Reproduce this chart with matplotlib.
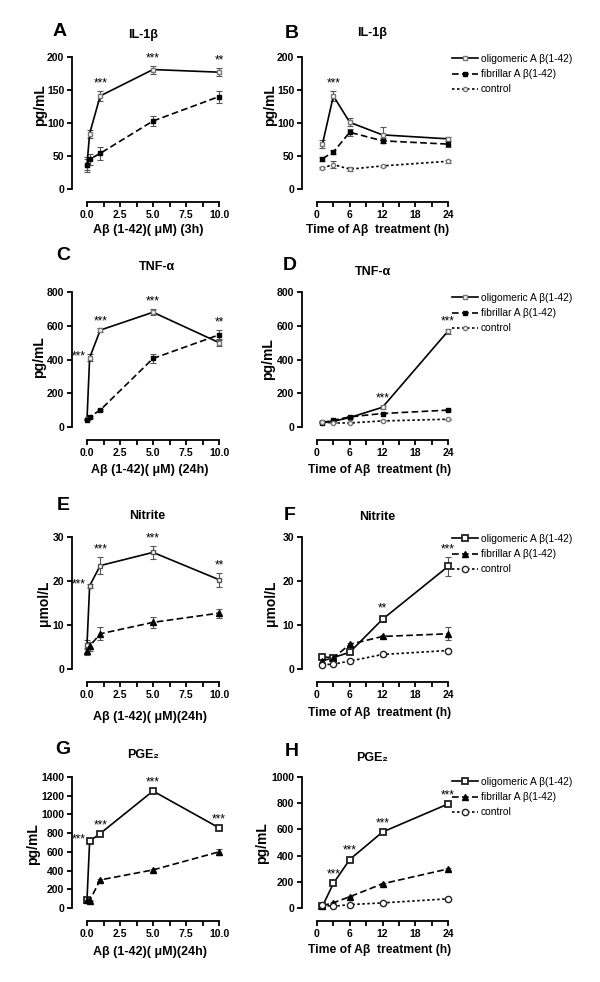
import matplotlib.pyplot as plt
from matplotlib.ticker import MultipleLocator, FormatStrFormatter

plt.rcParams['font.family'] = ['Liberation Sans', 'DejaVu Sans']

W, H = 600, 982

conc = [0, 0.2, 1, 5, 10]
hours = [1, 3, 6, 12, 24]

# A - IL-1b vs concentration (3h)
a_olig = [37, 84, 141, 181, 177]
a_olig_err = [11, 6, 8, 6, 6]
a_fib = [37, 45, 54, 103, 140]
a_fib_err = [8, 8, 10, 8, 9]
a_sig = ['', '', '***', '***', '**']

# B - IL-1b vs time
b_olig = [68, 141, 101, 82, 76]
b_olig_err = [6, 8, 6, 12, 3]
b_fib = [46, 56, 86, 73, 68]
b_fib_err = [3, 3, 5, 4, 5]
b_ctrl = [32, 37, 30, 35, 42]
b_ctrl_err = [2, 5, 3, 2, 2]
b_sig = ['', '***', '', '', '']

# C - TNF-a vs concentration (24h)
c_olig = [45, 410, 574, 680, 500]
c_olig_err = [5, 20, 10, 18, 20]
c_fib = [44, 60, 100, 406, 546]
c_fib_err = [5, 5, 8, 25, 30]
c_sig = ['', '***', '***', '***', '**']

# D - TNF-a vs time
d_olig = [30, 34, 56, 117, 568]
d_olig_err = [3, 3, 5, 8, 15]
d_fib = [24, 40, 60, 80, 100]
d_fib_err = [3, 3, 4, 5, 5]
d_ctrl = [30, 24, 24, 36, 46]
d_ctrl_err = [2, 2, 2, 3, 3]
d_sig = ['', '', '', '***', '***']

# E - nitrite vs concentration (24h)
e_olig = [5.5, 18.9, 23.5, 26.5, 20.3]
e_olig_err = [1.0, 0.5, 2.0, 1.5, 1.6]
e_fib = [4.0, 5.2, 8.0, 10.6, 12.7]
e_fib_err = [0.8, 1.0, 1.5, 1.2, 1.0]
e_sig = ['', '***', '***', '***', '**']

# F - nitrite vs time
f_olig = [2.7, 2.6, 3.8, 11.3, 23.3]
f_olig_err = [0.3, 0.3, 0.4, 0.7, 2.1]
f_fib = [1.9, 2.5, 5.6, 7.4, 8.0]
f_fib_err = [0.2, 0.3, 0.3, 0.4, 1.5]
f_ctrl = [1.0, 1.1, 1.8, 3.3, 4.2]
f_ctrl_err = [0.2, 0.2, 0.2, 0.3, 0.3]
f_sig = ['', '', '', '**', '***']

# G - PGE2 vs concentration (24h)
g_olig = [89, 714, 796, 1250, 857]
g_olig_err = [10, 10, 10, 15, 12]
g_fib = [89, 79, 300, 407, 600]
g_fib_err = [8, 8, 10, 10, 30]
g_sig = ['', '***', '***', '***', '***']

# H - PGE2 vs time
h_olig = [13, 188, 370, 580, 794]
h_olig_err = [3, 8, 10, 10, 10]
h_fib = [18, 40, 86, 185, 298]
h_fib_err = [3, 4, 5, 6, 8]
h_ctrl = [21, 13, 26, 39, 70]
h_ctrl_err = [2, 2, 3, 3, 4]
h_sig = ['', '***', '***', '***', '***']

legend_labels = ['oligomeric A \u03b2(1-42)', 'fibrillar A \u03b2(1-42)', 'control']


def fx(px):
    return px / W


def fy(py):
    return 1 - py / H


fig = plt.figure(figsize=(W / 100, H / 100), dpi=100)

cols = [(87, 219), (317, 448)]
rows = [(57, 189), (292, 427), (537, 669), (777, 908)]


def make_ax(r, c):
    x0, x1 = cols[c]
    t, b = rows[r]
    ax = fig.add_axes([fx(x0), fy(b), (x1 - x0) / W, (b - t) / H])
    for s in ['top', 'right']:
        ax.spines[s].set_visible(False)
    ax.spines['left'].set_position(('outward', 10.8))
    ax.spines['bottom'].set_position(('outward', 9.4))
    for s in ['left', 'bottom']:
        ax.spines[s].set_linewidth(1.3)
    ax.tick_params(direction='out', length=3.5, width=1.3, labelsize=7.5, pad=2)
    ax.tick_params(which='minor', direction='out', length=3.5, width=1.3)
    return ax


def style_ticks(ax):
    for lab in ax.get_xticklabels() + ax.get_yticklabels():
        lab.set_fontweight('bold')


def plot_series(ax, x, y, err, ls, marker, ms, mfc, mec, mew=1.0, label=None):
    ax.errorbar(x, y, yerr=err, ls='none', ecolor='#555555', elinewidth=0.8,
                capsize=2.2, capthick=0.8, clip_on=False, zorder=2)
    ax.plot(x, y, ls=ls, color='black', lw=1.2, marker=marker, ms=ms,
            mfc=mfc, mec=mec, mew=mew, clip_on=False, zorder=3, label=label)


def add_sig(ax, x, sig, pairs, left_first=False):
    # pairs: list of (values, errors) for all series, star goes above the highest one
    for i, s in enumerate(sig):
        if not s:
            continue
        y0, e0 = pairs[0]
        if left_first and i == 1:
            ax.annotate(s, (x[i], y0[i]), xytext=(-3, 1), textcoords='offset points',
                        ha='right', va='center', fontsize=8.5)
        else:
            top = max(v[i] + e[i] for v, e in pairs)
            ax.annotate(s, (x[i], top), xytext=(0, 1), textcoords='offset points',
                        ha='center', va='bottom', fontsize=8.5, annotation_clip=False)


def conc_axis(ax, ymax, ystep):
    ax.set_xlim(0, 10)
    ax.set_ylim(0, ymax)
    ax.xaxis.set_major_locator(MultipleLocator(2.5))
    ax.xaxis.set_minor_locator(MultipleLocator(1.25))
    ax.xaxis.set_major_formatter(FormatStrFormatter('%.1f'))
    ax.yaxis.set_major_locator(MultipleLocator(ystep))
    style_ticks(ax)


def time_axis(ax, ymax, ystep):
    ax.set_xlim(0, 24)
    ax.set_ylim(0, ymax)
    ax.xaxis.set_major_locator(MultipleLocator(6))
    ax.xaxis.set_minor_locator(MultipleLocator(3))
    ax.yaxis.set_major_locator(MultipleLocator(ystep))
    style_ticks(ax)


def add_legend(ax, top):
    ax.legend(loc='upper left', bbox_to_anchor=(fx(452), fy(top)), bbox_transform=fig.transFigure,
              frameon=False, fontsize=7.4, handlelength=2.5, handletextpad=0.3,
              labelspacing=0.5, borderpad=0, borderaxespad=0)


def texts(letter, lpos, title, tpos, ylabel, ypos, xlabel, xpos, xsize):
    fig.text(fx(lpos[0]), fy(lpos[1]), letter, fontsize=14, fontweight='bold', ha='center', va='center')
    fig.text(fx(tpos[0]), fy(tpos[1]), title, fontsize=9, fontweight='bold', ha='center', va='center')
    fig.text(fx(ypos[0]), fy(ypos[1]), ylabel, fontsize=10, fontweight='bold', ha='center', va='center',
             rotation=90)
    fig.text(fx(xpos[0]), fy(xpos[1]), xlabel, fontsize=xsize, fontweight='bold', ha='center', va='center')


time_label = 'Time of A\u03b2  treatment (h)'

# A
ax = make_ax(0, 0)
plot_series(ax, conc, a_olig, a_olig_err, '-', 's', 3.4, 'white', '#777777')
plot_series(ax, conc, a_fib, a_fib_err, (0, (4, 2)), 's', 3.4, 'black', 'black')
conc_axis(ax, 200, 50)
add_sig(ax, conc, a_sig, [(a_olig, a_olig_err)])
texts('A', (60, 32), 'IL-1\u03b2', (143, 35), 'pg/mL', (40, 105),
      'A\u03b2 (1-42)( \u03bcM) (3h)', (148, 230), 9)

# B
ax = make_ax(0, 1)
plot_series(ax, hours, b_olig, b_olig_err, '-', 's', 3.4, 'white', '#777777', label=legend_labels[0])
plot_series(ax, hours, b_fib, b_fib_err, (0, (4, 2)), 's', 3.4, 'black', 'black', label=legend_labels[1])
plot_series(ax, hours, b_ctrl, b_ctrl_err, (0, (1.5, 1.5)), 'o', 3, 'white', '#777777', label=legend_labels[2])
time_axis(ax, 200, 50)
add_sig(ax, hours, b_sig, [(b_olig, b_olig_err)])
add_legend(ax, 54)
texts('B', (292, 33), 'IL-1\u03b2', (372, 33), 'pg/mL', (270, 105), time_label, (378, 230), 8.7)

# C
ax = make_ax(1, 0)
plot_series(ax, conc, c_olig, c_olig_err, '-', 's', 3.4, 'white', '#777777')
plot_series(ax, conc, c_fib, c_fib_err, (0, (4, 2)), 's', 3.4, 'black', 'black')
conc_axis(ax, 800, 200)
add_sig(ax, conc, c_sig, [(c_olig, c_olig_err), (c_fib, c_fib_err)], left_first=True)
texts('C', (63, 255), 'TNF-\u03b1', (157, 267), 'pg/mL', (39, 357),
      'A\u03b2 (1-42)( \u03bcM) (24h)', (150, 470), 9)

# D
ax = make_ax(1, 1)
plot_series(ax, hours, d_olig, d_olig_err, '-', 's', 3.4, 'white', '#777777', label=legend_labels[0])
plot_series(ax, hours, d_fib, d_fib_err, (0, (4, 2)), 's', 3.4, 'black', 'black', label=legend_labels[1])
plot_series(ax, hours, d_ctrl, d_ctrl_err, (0, (1.5, 1.5)), 'o', 3, 'white', '#777777', label=legend_labels[2])
time_axis(ax, 800, 200)
add_sig(ax, hours, d_sig, [(d_olig, d_olig_err)])
add_legend(ax, 293)
texts('D', (290, 265), 'TNF-\u03b1', (373, 272), 'pg/mL', (268, 359), time_label, (380, 470), 8.7)

# E
ax = make_ax(2, 0)
plot_series(ax, conc, e_olig, e_olig_err, '-', 's', 3.4, 'white', '#555555')
plot_series(ax, conc, e_fib, e_fib_err, (0, (4, 2)), '^', 4, 'black', 'black')
conc_axis(ax, 30, 10)
add_sig(ax, conc, e_sig, [(e_olig, e_olig_err)], left_first=True)
texts('E', (63, 505), 'Nitrite', (147, 516), '\u03bcmol/L', (44, 603),
      'A\u03b2 (1-42)( \u03bcM)(24h)', (150, 717), 9)

# F
ax = make_ax(2, 1)
plot_series(ax, hours, f_olig, f_olig_err, '-', 's', 4, 'white', '#222222', mew=1.3, label=legend_labels[0])
plot_series(ax, hours, f_fib, f_fib_err, (0, (4, 2)), '^', 4, 'black', 'black', label=legend_labels[1])
plot_series(ax, hours, f_ctrl, f_ctrl_err, (0, (1.5, 1.5)), 'o', 4.5, 'white', '#222222', label=legend_labels[2])
time_axis(ax, 30, 10)
add_sig(ax, hours, f_sig, [(f_olig, f_olig_err)])
add_legend(ax, 534)
texts('F', (290, 515), 'Nitrite', (377, 517), '\u03bcmol/L', (271, 603), time_label, (380, 713), 8.7)

# G
ax = make_ax(3, 0)
plot_series(ax, conc, g_olig, g_olig_err, '-', 's', 4, 'white', '#222222', mew=1.3)
plot_series(ax, conc, g_fib, g_fib_err, (0, (4, 2)), '^', 4, 'black', 'black')
conc_axis(ax, 1400, 200)
add_sig(ax, conc, g_sig, [(g_olig, g_olig_err)], left_first=True)
texts('G', (63, 750), 'PGE\u2082', (143, 755), 'pg/mL', (33, 844),
      'A\u03b2 (1-42)( \u03bcM)(24h)', (150, 952), 9)

# H
ax = make_ax(3, 1)
plot_series(ax, hours, h_olig, h_olig_err, '-', 's', 4, 'white', '#222222', mew=1.3, label=legend_labels[0])
plot_series(ax, hours, h_fib, h_fib_err, (0, (4, 2)), '^', 4, 'black', 'black', label=legend_labels[1])
plot_series(ax, hours, h_ctrl, h_ctrl_err, (0, (1.5, 1.5)), 'o', 4.5, 'white', '#222222', label=legend_labels[2])
time_axis(ax, 1000, 200)
add_sig(ax, hours, h_sig, [(h_olig, h_olig_err)])
add_legend(ax, 777)
texts('H', (292, 752), 'PGE\u2082', (372, 758), 'pg/mL', (262, 843), time_label, (380, 950), 8.7)

fig.savefig('out.png', dpi=100)
